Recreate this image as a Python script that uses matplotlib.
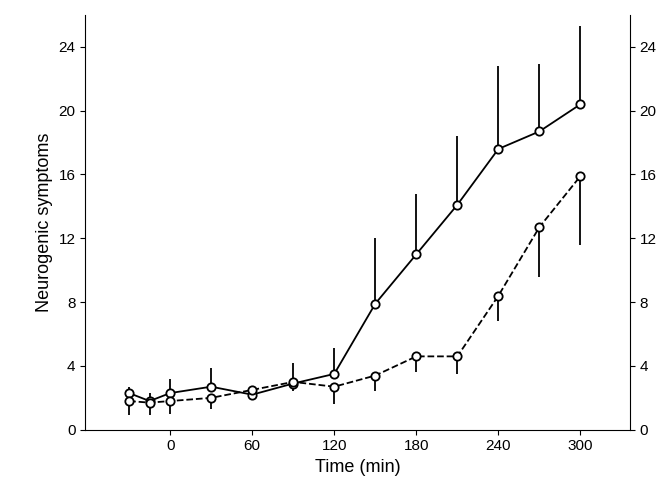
import matplotlib.pyplot as plt

plt.rcParams['font.family'] = ['Liberation Sans', 'DejaVu Sans']

time = [-30, -15, 0, 30, 60, 90, 120, 150, 180, 210, 240, 270, 300]
solid = [2.3, 1.8, 2.3, 2.7, 2.2, 2.9, 3.5, 7.9, 11.0, 14.1, 17.6, 18.7, 20.4]
solid_err = [0.4, 0.5, 0.9, 1.2, 0.4, 1.3, 1.6, 4.1, 3.8, 4.3, 5.2, 4.2, 4.9]
dashed = [1.8, 1.7, 1.8, 2.0, 2.5, 3.0, 2.7, 3.4, 4.6, 4.6, 8.4, 12.7, 15.9]
dashed_err = [0.9, 0.8, 0.8, 0.7, 0.5, 0.6, 1.1, 1.0, 1.0, 1.1, 1.6, 3.1, 4.3]

fig, ax = plt.subplots(figsize=(6.72, 4.98), dpi=100)
fig.subplots_adjust(left=0.127, right=0.937, bottom=0.137, top=0.97)

ax.errorbar(time, solid, yerr=[[0] * len(time), solid_err], color='black', lw=1.3,
            marker='o', ms=6, mfc='white', mec='black', mew=1.3, elinewidth=1.3, capsize=0, zorder=3)
ax.errorbar(time, dashed, yerr=[dashed_err, [0] * len(time)], color='black', lw=1.3, ls='--',
            marker='o', ms=6, mfc='white', mec='black', mew=1.3, elinewidth=1.3, capsize=0, zorder=3)

ax.set_xlim(-62, 336)
ax.set_ylim(0, 26)
ax.set_xticks([0, 60, 120, 180, 240, 300])
ax.set_yticks(range(0, 25, 4))
ax.spines['top'].set_visible(False)
ax.tick_params(direction='out', labelsize=11, right=True, labelright=True)
ax.set_xlabel('Time (min)', fontsize=13)
ax.set_ylabel('Neurogenic symptoms', fontsize=13)

plt.savefig('out.png')
